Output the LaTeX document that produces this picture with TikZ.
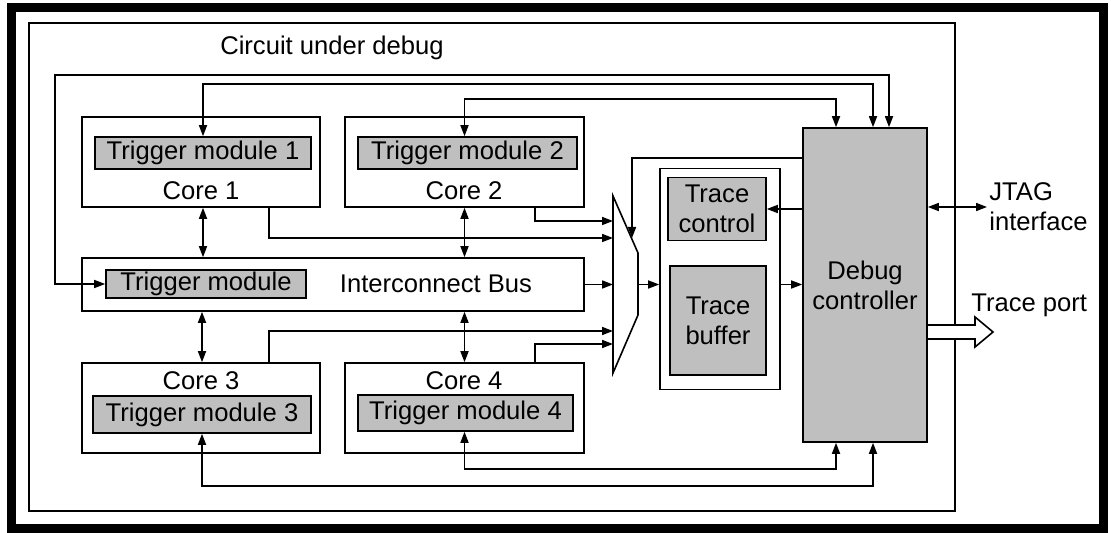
\documentclass[tikz,border=0pt]{standalone}
\usepackage{fontspec}
\setmainfont{Liberation Sans}
\usetikzlibrary{arrows.meta}
\tikzset{
  blk/.style={draw,fill=white,line width=.8pt,inner sep=0},
  trg/.style={draw,fill=gray!50,line width=.8pt,inner sep=0,align=center},
  txt/.style={inner sep=0,align=center},
  lnk/.style={line width=.8pt,-{Triangle[length=5.5pt,width=4pt]}},
  lnkk/.style={line width=.8pt,{Triangle[length=5.5pt,width=4pt]}-{Triangle[length=5.5pt,width=4pt]}},
}
\begin{document}
\begin{tikzpicture}[x=.5pt,y=-.5pt,font=\fontsize{12.8}{15}\selectfont]
\useasboundingbox (0,0) rectangle (1111,533);
\draw[line width=4.5pt] (11.5,8) rectangle (1103.5,528.5);
\draw[line width=.8pt] (29,23) rectangle (955,511);
\node[txt] (cud) at (332,48) {Circuit under debug};
% cores
\node[blk,minimum width=119pt,minimum height=45pt] (core1) at (201,162) {};
\node[trg,minimum width=108pt,minimum height=16pt] (tm1) at (203,153) {Trigger module 1};
\node[txt] (c1) at (201,191) {Core 1};
\node[blk,minimum width=119.5pt,minimum height=45pt] (core2) at (464.5,162) {};
\node[trg,minimum width=109.5pt,minimum height=16pt] (tm2) at (467.5,153) {Trigger module 2};
\node[txt] (c2) at (464,191) {Core 2};
\node[blk,minimum width=119pt,minimum height=45pt] (core3) at (201,408) {};
\node[trg,minimum width=109pt,minimum height=18.5pt] (tm3) at (202,414.5) {Trigger module 3};
\node[txt] (c3) at (201,381) {Core 3};
\node[blk,minimum width=119.5pt,minimum height=45pt] (core4) at (464.5,408) {};
\node[trg,minimum width=107.5pt,minimum height=18pt] (tm4) at (465.5,413) {Trigger module 4};
\node[txt] (c4) at (464,381) {Core 4};
% bus
\node[blk,minimum width=251pt,minimum height=26.5pt] (bus) at (333,284.5) {};
\node[trg,minimum width=100pt,minimum height=14pt] (tmb) at (206,284) {Trigger module};
\node[txt] (busl) at (436,284) {Interconnect Bus};
% trace
\node[blk,minimum width=60pt,minimum height=110.5pt] (tr) at (720,279) {};
\node[trg,minimum width=49pt,minimum height=31.5pt] (tctl) at (717,209) {Trace\\control};
\node[trg,minimum width=48pt,minimum height=54.5pt] (tbuf) at (718,320.5) {Trace\\buffer};
% trace port
\draw[line width=.8pt,fill=white] (927,325) -- (975,325) -- (975,317) -- (993,332)
  -- (975,347) -- (975,339) -- (927,339);
\node[trg,minimum width=62pt,minimum height=157pt] (dbg) at (865,285) {Debug\\controller};
\node[txt,anchor=west] (tport) at (971,305) {Trace port};
\node[txt,align=left,anchor=west] (jtag) at (989,207) {JTAG\\interface};
% mux
\draw[line width=.8pt] (613,196) -- (638,253) -- (638,315) -- (613,373) -- cycle;
\coordinate (m1) at (613,221);
\coordinate (m2) at (613,238);
\coordinate (m3) at (613,284.5);
\coordinate (m4) at (613,331);
\coordinate (m5) at (613,344);
\coordinate (mo) at (638,284.5);
\coordinate (fb) at (632,238);
% links
\draw[lnkk] (tm1 |- core1.south) -- (tm1 |- bus.north);
\draw[lnkk] (core2.south) -- (core2.south |- bus.north);
\draw[lnkk] (tm3 |- bus.south) -- (tm3 |- core3.north);
\draw[lnkk] (core4.north |- bus.south) -- (core4.north);
\draw[lnkk] (tmb.west) -| (55,75) -| ([xshift=12pt]dbg.north);
\draw[lnkk] (tm1.north) -- ++(0,-52) -| ([xshift=4pt]dbg.north);
\draw[lnkk] (tm2.north -| core2) -- ++(0,-37) -| ([xshift=-14.5pt]dbg.north);
\draw[lnkk] (tm3.south) -- ++(0,52) -| ([xshift=4pt]dbg.south);
\draw[lnkk] (tm4.south -| core4) -- ++(0,37) -| ([xshift=-14.5pt]dbg.south);
\draw[lnk] ([xshift=-25pt]core2.south east) |- (m1);
\draw[lnk] ([xshift=-26pt]core1.south east) |- (m2);
\draw[lnk] (bus.east) -- (m3);
\draw[lnk] ([xshift=-26pt]core3.north east) |- (m4);
\draw[lnk] ([xshift=-25pt]core4.north east) |- (m5);
\draw[lnk] ([yshift=-15.5pt]dbg.north west) -| (fb);
\draw[lnk] (mo) -- (mo -| tr.west);
\draw[lnk] (mo -| tr.east) -- (mo -| dbg.west);
\draw[lnk] (dbg.west |- tctl) -- (tctl.east);
\draw[lnkk] (dbg.east |- jtag.west) -- ([xshift=-1pt]jtag.west);
\end{tikzpicture}
\end{document}
